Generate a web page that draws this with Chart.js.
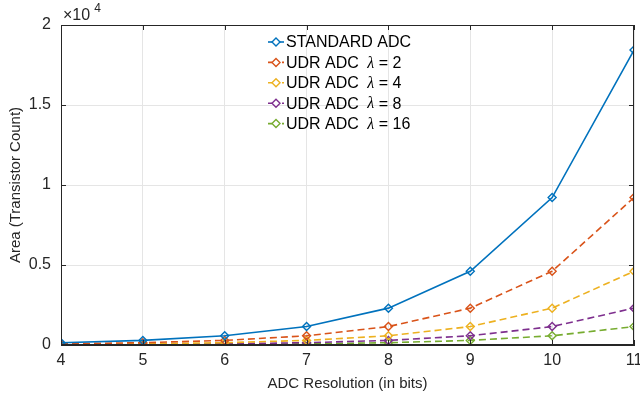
<!DOCTYPE html>
<html>
<head>
<meta charset="utf-8">
<script src="https://cdn.jsdelivr.net/npm/chart.js@4.4.1/dist/chart.umd.min.js"></script>
<style>
  html, body { margin: 0; padding: 0; background: #fff; }
  #wrap { width: 640px; height: 399px; }
</style>
</head>
<body>
<div id="wrap"><canvas id="areaChart" width="640" height="399"></canvas></div>
<script>
// --- data ---
const resolutionBits = [4, 5, 6, 7, 8, 9, 10, 11];
const standardAdc = [144, 288, 576, 1152, 2304, 4608, 9216, 18432];
const udrLambda2  = [72, 144, 288, 576, 1152, 2304, 4608, 9216];
const udrLambda4  = [36, 72, 144, 288, 576, 1152, 2304, 4608];
const udrLambda8  = [18, 36, 72, 144, 288, 576, 1152, 2304];
const udrLambda16 = [9, 18, 36, 72, 144, 288, 576, 1152];

const yTicks = [0, 5000, 10000, 15000, 20000];
const legendNames = ['STANDARD ADC', 'UDR ADC', 'UDR ADC', 'UDR ADC', 'UDR ADC'];
const legendLambdas = [null, '2', '4', '8', '16'];

// MATLAB default colours
const colors = ['#0072BD', '#D95319', '#EDB120', '#7E2F8E', '#77AC30'];
const FONT = "'Liberation Sans', Arial, Helvetica, sans-serif";
const INK = '#262626';

function pts(ys) {
    return resolutionBits.map((x, i) => ({ x: x, y: ys[i] }));
}

function makeSet(label, ys, color, dashed) {
    return {
        label: label,
        data: pts(ys),
        borderColor: color,
        backgroundColor: 'rgba(255,255,255,0)',
        borderWidth: 1.6,
        borderDash: dashed ? [7, 4] : [],
        pointStyle: 'rectRot',
        pointRadius: 4,
        pointBorderWidth: 1.4,
        pointBackgroundColor: 'rgba(255,255,255,0)',
        pointBorderColor: color,
        tension: 0
    };
}

// box, inward ticks, exponent label and in-plot legend (MATLAB look)
const matlabAxes = {
    id: 'matlabAxes',
    afterDatasetsDraw(chart) {
        const { ctx, chartArea: a, scales } = chart;
        ctx.save();
        ctx.strokeStyle = INK;
        ctx.lineWidth = 1;
        ctx.setLineDash([]);
        ctx.strokeRect(a.left + 0.5, a.top + 0.5, a.right - a.left - 1, a.bottom - a.top - 1);

        const tl = 5;
        ctx.beginPath();
        resolutionBits.forEach(v => {
            const x = Math.round(scales.x.getPixelForValue(v)) + 0.5;
            ctx.moveTo(x, a.bottom); ctx.lineTo(x, a.bottom - tl);
            ctx.moveTo(x, a.top); ctx.lineTo(x, a.top + tl);
        });
        yTicks.forEach(v => {
            const y = Math.round(scales.y.getPixelForValue(v)) + 0.5;
            ctx.moveTo(a.left, y); ctx.lineTo(a.left + tl, y);
            ctx.moveTo(a.right, y); ctx.lineTo(a.right - tl, y);
        });
        ctx.stroke();

        // x10^4
        ctx.fillStyle = INK;
        ctx.textBaseline = 'alphabetic';
        ctx.textAlign = 'left';
        ctx.font = '16px ' + FONT;
        ctx.fillText('\u00d710', a.left + 2, a.top - 5);
        const w = ctx.measureText('\u00d710').width;
        ctx.font = '12px ' + FONT;
        ctx.fillText('4', a.left + 6 + w, a.top - 13);

        // legend
        const lx = 268, ly0 = 42, dy = 20.4;
        chart.data.datasets.forEach((ds, i) => {
            const y = ly0 + i * dy;
            ctx.strokeStyle = ds.borderColor;
            ctx.lineWidth = 1.6;
            ctx.setLineDash(ds.borderDash.length ? [4, 3] : []);
            ctx.beginPath();
            ctx.moveTo(lx, y); ctx.lineTo(lx + 16, y);
            ctx.stroke();
            ctx.setLineDash([]);
            ctx.lineWidth = 1.4;
            ctx.beginPath();
            ctx.moveTo(lx + 8, y - 4); ctx.lineTo(lx + 12, y);
            ctx.lineTo(lx + 8, y + 4); ctx.lineTo(lx + 4, y);
            ctx.closePath();
            ctx.fillStyle = '#fff';
            ctx.fill();
            ctx.stroke();

            ctx.fillStyle = '#000';
            ctx.textBaseline = 'middle';
            ctx.font = '16px ' + FONT;
            let tx = lx + 18;
            ctx.fillText(legendNames[i], tx, y + 1);
            if (legendLambdas[i]) {
                tx += ctx.measureText(legendNames[i] + ' ').width + 4;
                ctx.font = 'italic 16px "Liberation Serif", serif';
                ctx.fillText('\u03bb', tx, y + 1);
                tx += ctx.measureText('\u03bb').width;
                ctx.font = '16px ' + FONT;
                ctx.fillText(' = ' + legendLambdas[i], tx, y + 1);
            }
        });
        ctx.restore();
    }
};

const chart = new Chart(document.getElementById('areaChart'), {
    type: 'line',
    data: {
        datasets: [
            makeSet('STANDARD ADC', standardAdc, colors[0], false),
            makeSet('UDR ADC λ = 2', udrLambda2, colors[1], true),
            makeSet('UDR ADC λ = 4', udrLambda4, colors[2], true),
            makeSet('UDR ADC λ = 8', udrLambda8, colors[3], true),
            makeSet('UDR ADC λ = 16', udrLambda16, colors[4], true)
        ]
    },
    options: {
        responsive: false,
        animation: false,
        layout: { padding: { top: 25, right: 6, left: 0, bottom: 0 } },
        plugins: {
            legend: { display: false },
            tooltip: { enabled: false }
        },
        scales: {
            x: {
                type: 'linear',
                min: 4,
                max: 11,
                grid: { color: '#e5e5e5', drawTicks: false },
                border: { display: true, color: INK },
                ticks: {
                    stepSize: 1,
                    padding: 6,
                    color: INK,
                    font: { family: FONT, size: 16 },
                    maxRotation: 0
                },
                title: {
                    display: true,
                    text: 'ADC Resolution (in bits)',
                    color: INK,
                    font: { family: FONT, size: 15 },
                    padding: { top: 2, bottom: 6 }
                },
                afterFit: s => { s.height = 54; s.paddingLeft = 0; s.paddingRight = 0; }
            },
            y: {
                min: 0,
                max: 20000,
                grid: { color: '#e5e5e5', drawTicks: false },
                border: { display: true, color: INK },
                ticks: {
                    stepSize: 5000,
                    padding: 10,
                    color: INK,
                    font: { family: FONT, size: 16 },
                    callback: v => String(v / 10000)
                },
                title: {
                    display: true,
                    text: 'Area (Transistor Count)',
                    color: INK,
                    font: { family: FONT, size: 15 },
                    padding: { top: 7, bottom: 0 }
                },
                afterFit: s => { s.width = 61; s.paddingTop = 0; s.paddingBottom = 0; }
            }
        }
    },
    plugins: [matlabAxes]
});
</script>
</body>
</html>
